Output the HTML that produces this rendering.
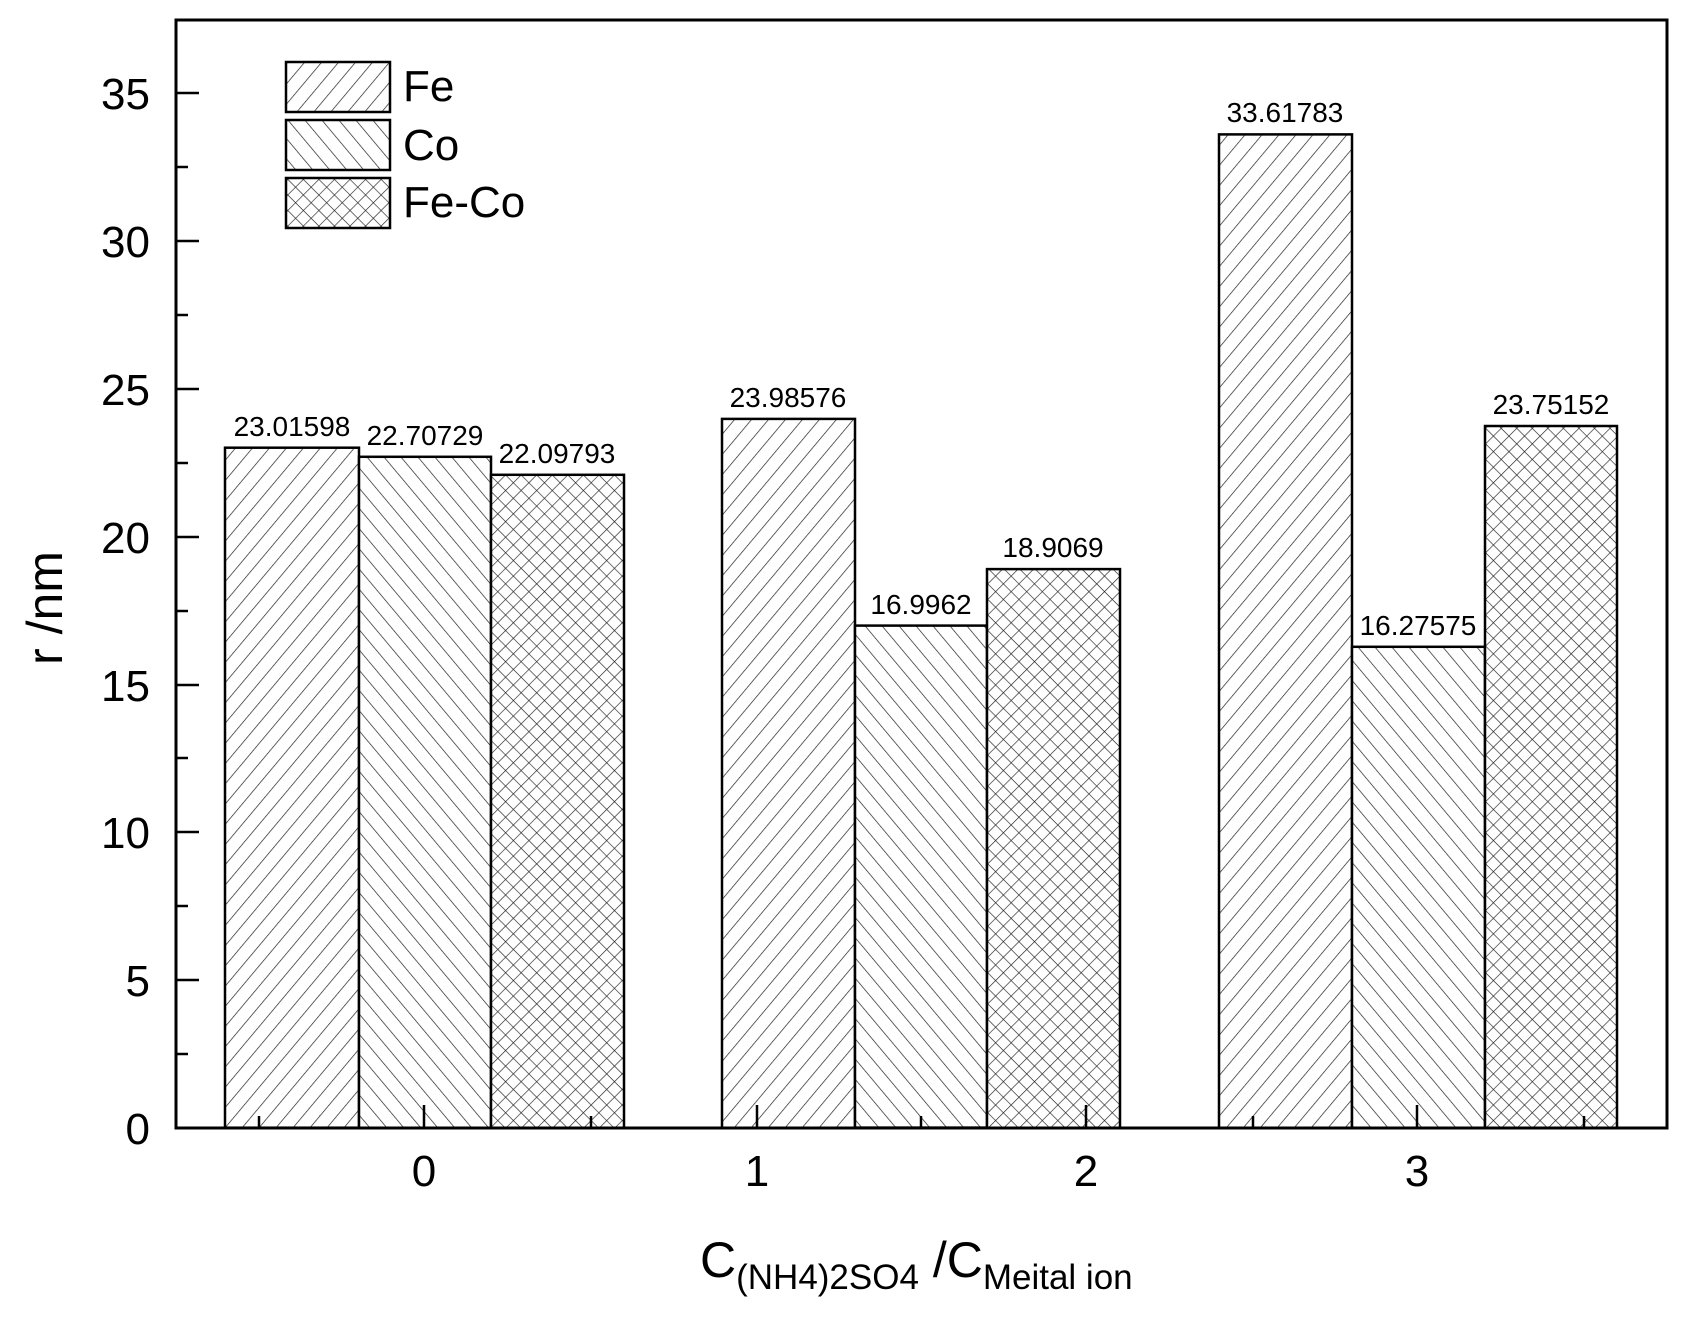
<!DOCTYPE html>
<html><head><style>html,body{margin:0;padding:0;background:#fff}svg{display:block}</style></head><body>
<svg width="1689" height="1319" viewBox="0 0 1689 1319" xmlns="http://www.w3.org/2000/svg" font-family="Liberation Sans, Arial, sans-serif">
<defs>
<pattern id="fe" patternUnits="userSpaceOnUse" width="13" height="13" patternTransform="rotate(40)"><rect width="13" height="13" fill="#fff"/><line x1="0" y1="0" x2="0" y2="13" stroke="#222" stroke-width="1.4"/></pattern>
<pattern id="co" patternUnits="userSpaceOnUse" width="13" height="13" patternTransform="rotate(-40)"><rect width="13" height="13" fill="#fff"/><line x1="0" y1="0" x2="0" y2="13" stroke="#222" stroke-width="1.4"/></pattern>
<pattern id="fc" patternUnits="userSpaceOnUse" width="11" height="11" patternTransform="rotate(45)"><rect width="11" height="11" fill="#fff"/><line x1="0" y1="0" x2="0" y2="11" stroke="#222" stroke-width="1.3"/><line x1="0" y1="0" x2="11" y2="0" stroke="#222" stroke-width="1.3"/></pattern>
</defs>
<g stroke="#000" stroke-width="2.5">
<rect x="225" y="447.7" width="134" height="680" fill="url(#fe)"/>
<rect x="359" y="456.8" width="132" height="671" fill="url(#co)"/>
<rect x="491" y="474.8" width="133" height="653" fill="url(#fc)"/>
<rect x="722" y="418.9" width="133" height="709" fill="url(#fe)"/>
<rect x="855" y="625.6" width="132" height="502" fill="url(#co)"/>
<rect x="987" y="569.1" width="133" height="559" fill="url(#fc)"/>
<rect x="1219" y="134.4" width="133" height="993.4" fill="url(#fe)"/>
<rect x="1352" y="646.8" width="133" height="481" fill="url(#co)"/>
<rect x="1485" y="426" width="132" height="702" fill="url(#fc)"/>
</g>
<g font-size="28" text-anchor="middle" fill="#000">
<text x="292" y="436">23.01598</text>
<text x="425" y="445">22.70729</text>
<text x="557" y="463">22.09793</text>
<text x="788" y="407">23.98576</text>
<text x="921" y="614">16.9962</text>
<text x="1053" y="557">18.9069</text>
<text x="1285" y="122">33.61783</text>
<text x="1418" y="635">16.27575</text>
<text x="1551" y="414">23.75152</text>
</g>
<rect x="176" y="20" width="1491" height="1108" fill="none" stroke="#000" stroke-width="3"/>
<g stroke="#000" stroke-width="2.5">
<line x1="176" y1="1128" x2="199" y2="1128"/><line x1="176" y1="1054" x2="188" y2="1054"/>
<line x1="176" y1="980" x2="199" y2="980"/><line x1="176" y1="906" x2="188" y2="906"/>
<line x1="176" y1="832" x2="199" y2="832"/><line x1="176" y1="758" x2="188" y2="758"/>
<line x1="176" y1="685" x2="199" y2="685"/><line x1="176" y1="611" x2="188" y2="611"/>
<line x1="176" y1="537" x2="199" y2="537"/><line x1="176" y1="463" x2="188" y2="463"/>
<line x1="176" y1="389" x2="199" y2="389"/><line x1="176" y1="315" x2="188" y2="315"/>
<line x1="176" y1="241" x2="199" y2="241"/><line x1="176" y1="167" x2="188" y2="167"/>
<line x1="176" y1="93" x2="199" y2="93"/>
<line x1="424" y1="1128" x2="424" y2="1105"/><line x1="757" y1="1128" x2="757" y2="1105"/>
<line x1="1086" y1="1128" x2="1086" y2="1105"/><line x1="1417" y1="1128" x2="1417" y2="1105"/>
<line x1="259" y1="1128" x2="259" y2="1116"/><line x1="591" y1="1128" x2="591" y2="1116"/>
<line x1="921" y1="1128" x2="921" y2="1116"/><line x1="1253" y1="1128" x2="1253" y2="1116"/>
<line x1="1584" y1="1128" x2="1584" y2="1116"/>
</g>
<g font-size="44" text-anchor="end" fill="#000">
<text x="150" y="1144">0</text><text x="150" y="996">5</text><text x="150" y="848">10</text>
<text x="150" y="701">15</text><text x="150" y="553">20</text><text x="150" y="405">25</text>
<text x="150" y="257">30</text><text x="150" y="109">35</text>
</g>
<g font-size="44" text-anchor="middle" fill="#000">
<text x="424" y="1186">0</text><text x="757" y="1186">1</text><text x="1086" y="1186">2</text><text x="1417" y="1186">3</text>
</g>
<text x="62" y="608" font-size="50" text-anchor="middle" transform="rotate(-90 62 608)">r /nm</text>
<text x="700" y="1277" font-size="50">C<tspan font-size="35" dy="12">(NH4)2SO4</tspan><tspan dy="-12"> /C</tspan><tspan font-size="35" dy="12">Meital ion</tspan></text>
<g stroke="#000" stroke-width="2.5">
<rect x="286" y="62" width="104" height="50" fill="url(#fe)"/>
<rect x="286" y="120" width="104" height="50" fill="url(#co)"/>
<rect x="286" y="178" width="104" height="50" fill="url(#fc)"/>
</g>
<g font-size="44" fill="#000">
<text x="403" y="101">Fe</text><text x="403" y="160">Co</text><text x="403" y="217">Fe-Co</text>
</g>
</svg>
</body></html>
